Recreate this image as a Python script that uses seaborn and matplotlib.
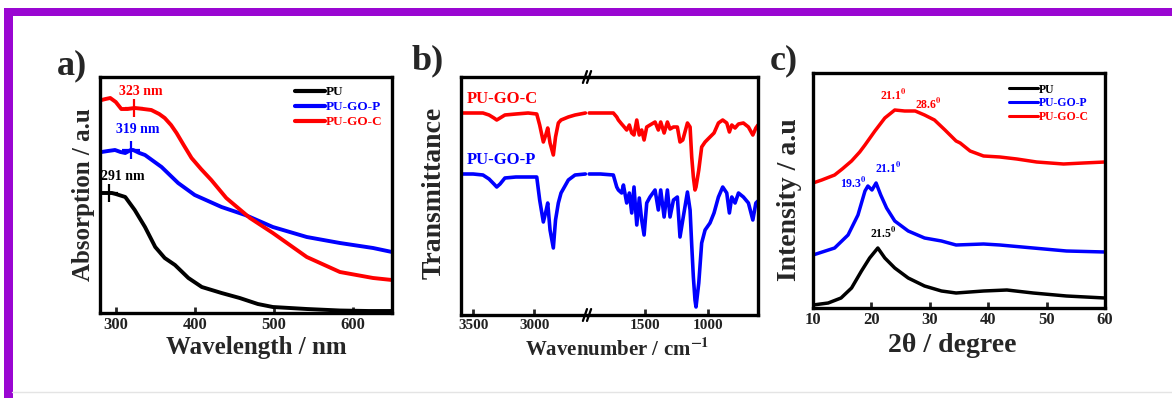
import matplotlib
matplotlib.use("Agg")
import matplotlib.pyplot as plt
import seaborn as sns

sns.set_theme(style="white")
plt.rcParams['font.family'] = ['Liberation Serif', 'DejaVu Serif']
plt.rcParams['font.weight'] = 'bold'
plt.rcParams['mathtext.fontset'] = 'stix'
plt.rcParams['mathtext.default'] = 'bf'

# ---------------- data : panel a (UV-vis) ----------------
uv_pu_nm = [282, 295, 300, 312, 324, 337, 350, 362, 375, 392, 409, 434, 457, 480, 499, 542, 584, 620, 650]
uv_pu_abs = [120, 120, 119, 116, 103, 86, 66, 55, 48, 35, 26, 20, 15, 9, 6, 4, 2.5, 2, 2]
uv_gop_nm = [282, 290, 299, 306, 312, 319, 322, 330, 337, 358, 379, 400, 434, 464, 470, 499, 542, 584, 626, 650]
uv_gop_abs = [161, 162, 163, 161, 160, 163, 163, 160, 158, 146, 130, 118, 106, 98, 96, 86, 76, 70, 65, 61]
uv_goc_nm = [282, 287, 293, 300, 307, 315, 324, 335, 345, 355, 362, 370, 377, 386, 396, 408, 421, 440,
             464, 470, 499, 542, 584, 626, 650]
uv_goc_abs = [213, 214, 215, 211, 204, 204, 205, 204, 203, 199, 195, 188, 180, 168, 155, 144, 133, 115,
              99, 95, 80, 56, 41, 35, 33]
uv_peak_nm = [291, 319, 323]
uv_peak_abs = [120, 163, 205]
uv_peak_labels = ["291 nm", "319 nm", "323 nm"]

# ---------------- data : panel b (FTIR, broken axis) ----------------
ir_wn_hi = [3600, 3500, 3420, 3370, 3330, 3307, 3280, 3240, 3150, 3050, 2979, 2955, 2925, 2905, 2889,
            2870, 2843, 2825, 2802, 2780, 2720, 2665, 2580]
ir_goc_hi = [202, 202, 202, 200, 197, 195, 197, 200, 201, 202, 201, 190, 173, 180, 187,
             172, 160, 178, 192, 195, 198, 200, 202]
ir_gop_hi = [141, 141, 140, 136, 131, 128, 131, 137, 138, 138, 138, 115, 93, 103, 112,
             85, 67, 95, 112, 122, 135, 140, 141]
ir_wn_lo = [1940, 1850, 1748, 1721, 1708, 1682, 1668, 1642, 1621, 1602, 1584, 1562, 1542, 1523, 1504,
            1483, 1457, 1417, 1391, 1372, 1345, 1319, 1298, 1271, 1240, 1219, 1197, 1160, 1139, 1126,
            1113, 1100, 1092, 1070, 1047, 1020, 981, 949, 914, 880, 848, 827, 808, 782, 755, 716, 676,
            641, 617, 600]
ir_goc_lo = [202, 202, 202, 198, 195, 191, 189, 185, 190, 182, 180, 195, 180, 185, 175,
             188, 190, 193, 185, 193, 182, 193, 186, 188, 188, 173, 175, 192, 188, 158,
             138, 125, 128, 145, 168, 173, 178, 182, 192, 195, 192, 183, 190, 187, 191, 192, 188,
             180, 187, 190]
ir_gop_lo = [141, 141, 140, 128, 125, 122, 130, 112, 122, 102, 128, 90, 117, 95, 80,
             112, 118, 125, 105, 125, 98, 125, 98, 115, 118, 78, 95, 123, 105, 70,
             38, 15, 8, 32, 72, 85, 92, 102, 118, 128, 122, 102, 118, 112, 122, 118, 112,
             95, 112, 114]

# ---------------- data : panel c (XRD) ----------------
xrd_goc_deg = [10, 11.5, 13.7, 15, 16.6, 18, 18.9, 20.6, 22.3, 24, 25.7, 27.5, 29.1, 30.8, 32.6, 34.5,
               35.2, 36.9, 39.2, 42, 44.9, 48.3, 52.9, 56.3, 60]
xrd_goc_int = [125, 128, 133, 139, 147, 156, 163, 177, 190, 198, 197, 197, 193, 188, 178, 167,
               165, 157, 152, 151, 149, 146, 144, 145, 146]
xrd_gop_deg = [10, 13.7, 16, 17.7, 18.9, 19.4, 20.1, 20.8, 21.6, 22.6, 24, 26.3, 29.1, 32, 34.5, 39.2,
               42, 47.7, 53.4, 60]
xrd_gop_int = [53, 60, 73, 93, 117, 122, 118, 125, 113, 100, 87, 77, 70, 67, 63, 64, 63, 60, 57, 56]
xrd_pu_deg = [10, 12.6, 14.8, 16.6, 18.3, 19.7, 21.1, 22.3, 24, 26.3, 29.1, 32, 34.5, 39.2, 43.2, 47.7,
              53.4, 60]
xrd_pu_int = [3, 5, 10, 20, 37, 50, 60, 50, 40, 30, 22, 17, 15, 17, 18, 15, 12, 10]

series_names = ["PU", "PU-GO-P", "PU-GO-C"]
series_colors = ["#000000", "#0000ff", "#ff0000"]

W, H = 1172, 398
fig = plt.figure(figsize=(W / 100, H / 100), dpi=100)
fig.patch.set_facecolor("white")


def box(x0, y0, x1, y1):
    return [x0 / W, 1 - y1 / H, (x1 - x0) / W, (y1 - y0) / H]


SPINE = 2.4


def style_axes(ax, labelsize):
    ax.set_facecolor("white")
    for s in ax.spines.values():
        s.set_linewidth(SPINE)
        s.set_color("black")
        s.set_visible(True)
    ax.tick_params(axis='x', direction='in', length=4, width=2, bottom=True, top=False,
                   labelsize=labelsize, labelcolor='#222222', pad=3)
    ax.tick_params(axis='y', left=False, right=False, labelleft=False)
    for lab in ax.get_xticklabels():
        lab.set_fontweight('bold')
    ax.grid(False)


# purple frame
frame = fig.add_axes([0, 0, 1, 1], zorder=-5)
frame.set_xlim(0, W)
frame.set_ylim(H, 0)
frame.axis('off')
frame.fill_between([4, W], 8, 16, color="#9a06d2", lw=0)
frame.fill_between([4, 12.5], 8, H, color="#9a06d2", lw=0)
frame.plot([12, W], [392, 392], color="#e4e4e4", lw=1)

# ---------------- panel a ----------------
axa = fig.add_axes(box(100, 77, 392, 313))
uv_sets = [(uv_pu_nm, uv_pu_abs), (uv_gop_nm, uv_gop_abs), (uv_goc_nm, uv_goc_abs)]
for (xs, ys), name, col in zip(uv_sets, series_names, series_colors):
    sns.lineplot(x=xs, y=ys, color=col, lw=2.8, ax=axa, label=name, sort=False)
for xv, yv, lab, col, dx, dy in zip(uv_peak_nm, uv_peak_abs, uv_peak_labels, series_colors,
                                     [10, 5, 5], [12, 15, 12]):
    axa.plot([xv], [yv], marker='+', ms=13, mew=1.6, color=col, ls='none')
    axa.annotate(lab, (xv, yv), xytext=(dx, dy), textcoords='offset points', ha='center', va='center',
                 fontsize=10, fontweight='bold', color=col)
axa.set_xlim(280, 650)
axa.set_ylim(0, 236)
axa.set_xticks([300, 400, 500, 600])
style_axes(axa, 12)
axa.set_xlabel("Wavelength / nm", fontsize=18, fontweight='bold')
axa.xaxis.set_label_coords(0.535, -0.147)
axa.xaxis.label.set_va('center')
axa.set_ylabel("Absorption / a.u", fontsize=18, fontweight='bold')
axa.yaxis.set_label_coords(-0.055, 0.5)
axa.yaxis.label.set_va('center')
leg = axa.legend(loc='upper right', bbox_to_anchor=(1.0, 1.0), frameon=False,
                 handlelength=2.3, handletextpad=0.05, labelspacing=0.2, borderaxespad=0.3,
                 labelcolor='linecolor', prop={'weight': 'bold', 'size': 9.5})
for line in leg.get_lines():
    line.set_linewidth(3)
fig.text(57 / W, 1 - 66 / H, "a)", fontsize=26, fontweight='bold', va='center', ha='left')

# ---------------- panel b ----------------
axb1 = fig.add_axes(box(461, 77, 587, 315))
axb2 = fig.add_axes(box(587, 77, 758, 315))
for ax, wn, gop, goc in [(axb1, ir_wn_hi, ir_gop_hi, ir_goc_hi), (axb2, ir_wn_lo, ir_gop_lo, ir_goc_lo)]:
    sns.lineplot(x=wn, y=goc, color="#ff0000", lw=2.6, ax=ax, sort=False)
    sns.lineplot(x=wn, y=gop, color="#0000ff", lw=2.6, ax=ax, sort=False)
    ax.set_ylim(0, 238)
    style_axes(ax, 11)
axb1.set_xlim(3600, 2567)
axb2.set_xlim(1957, 600)
axb1.set_xticks([3500, 3000])
axb2.set_xticks([1500, 1000])
axb1.spines['right'].set_visible(False)
axb2.spines['left'].set_visible(False)
for yy in (0, 1):
    for dx in (-0.012, 0.012):
        axb2.plot([dx - 0.012, dx + 0.012], [yy - 0.025, yy + 0.025], transform=axb2.transAxes,
                  color='black', lw=1.6, clip_on=False, zorder=10)
fig.text(467 / W, 1 - 99 / H, "PU-GO-C", color="#ff0000", fontsize=12, fontweight='bold', va='center')
fig.text(467 / W, 1 - 160 / H, "PU-GO-P", color="#0000ff", fontsize=12, fontweight='bold', va='center')
fig.text(434 / W, 1 - 193 / H, "Transmittance", rotation=90, fontsize=20, fontweight='bold',
         va='center', ha='center')
fig.text(617 / W, 1 - 350 / H, r"Wavenumber / cm$^{-1}$", fontsize=15, fontweight='bold',
         va='center', ha='center')
fig.text(412 / W, 1 - 61 / H, "b)", fontsize=26, fontweight='bold', va='center', ha='left')

# ---------------- panel c ----------------
axc = fig.add_axes(box(813, 73, 1105, 308))
xrd_sets = [(xrd_pu_deg, xrd_pu_int), (xrd_gop_deg, xrd_gop_int), (xrd_goc_deg, xrd_goc_int)]
for (xs, ys), name, col in zip(xrd_sets, series_names, series_colors):
    sns.lineplot(x=xs, y=ys, color=col, lw=2.5, ax=axc, label=name, sort=False)
axc.set_xlim(10, 60)
axc.set_ylim(0, 235)
axc.set_xticks([10, 20, 30, 40, 50, 60])
style_axes(axc, 12)
axc.set_xlabel(r"2θ / degree", fontsize=20, fontweight='bold')
axc.xaxis.set_label_coords(0.476, -0.16)
axc.xaxis.label.set_va('center')
axc.set_ylabel("Intensity / a.u", fontsize=20, fontweight='bold')
axc.yaxis.set_label_coords(-0.079, 0.46)
axc.yaxis.label.set_va('center')
legc = axc.legend(loc='upper right', bbox_to_anchor=(0.973, 0.99), frameon=False,
                  handlelength=2.5, handletextpad=0.05, labelspacing=0.15, borderaxespad=0.3,
                  labelcolor='linecolor', prop={'weight': 'bold', 'size': 8.5})
for line in legc.get_lines():
    line.set_linewidth(2.2)
xrd_peak_text = [("21.1$^{0}$", 893, 95, "#ff0000"), ("28.6$^{0}$", 928, 104, "#ff0000"),
                 ("19.3$^{0}$", 853, 183, "#0000ff"), ("21.1$^{0}$", 888, 168, "#0000ff"),
                 ("21.5$^{0}$", 883, 233, "#000000")]
for t, px, py, col in xrd_peak_text:
    fig.text(px / W, 1 - py / H, t, color=col, fontsize=8.5, fontweight='bold', ha='center', va='center')
fig.text(770 / W, 1 - 61 / H, "c)", fontsize=26, fontweight='bold', va='center', ha='left')

fig.savefig("out.png", dpi=100, facecolor="white")
